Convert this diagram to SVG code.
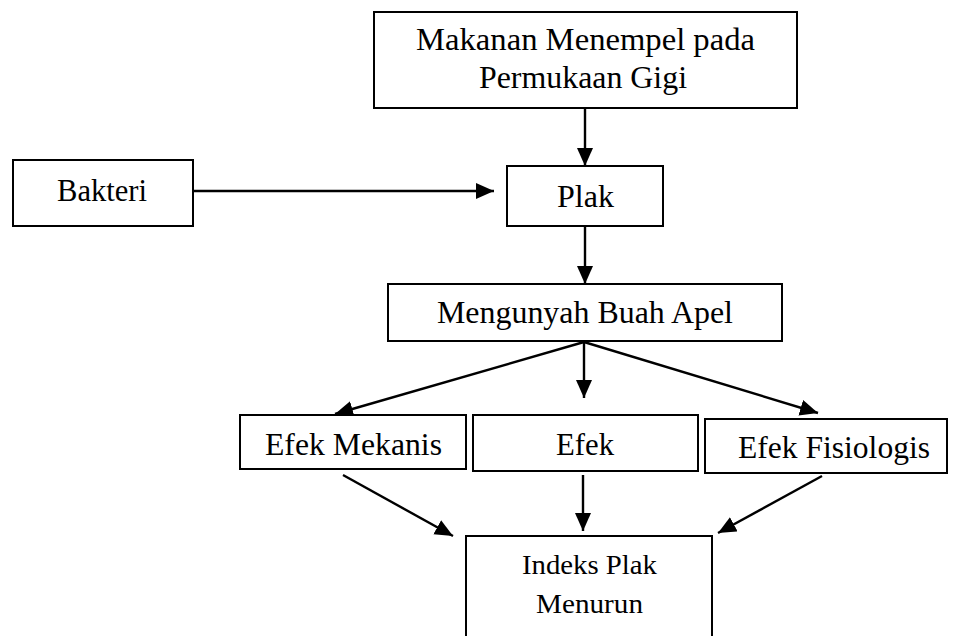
<svg xmlns="http://www.w3.org/2000/svg" width="954" height="636" viewBox="0 0 954 636">
<style>
.box{fill:#fff;stroke:#000;stroke-width:2}
.t{font-family:"Liberation Serif","Times New Roman",serif;font-size:31px;fill:#000}
.ts{font-family:"Liberation Serif","Times New Roman",serif;font-size:28px;fill:#000}
.c{stroke:#000;stroke-width:2.4;fill:none;marker-end:url(#ah)}
</style>
<defs>
<marker id="ah" markerUnits="userSpaceOnUse" markerWidth="20" markerHeight="18" refX="18" refY="8" orient="auto">
<path d="M0,0 L18,8 L0,16 Z" fill="#000"/>
</marker>
</defs>
<rect width="954" height="636" fill="#fff"/>
<g id="connectors">
<line class="c" x1="585" y1="108" x2="585" y2="166"/>
<line class="c" x1="194" y1="191" x2="494" y2="191"/>
<line class="c" x1="585" y1="226" x2="585" y2="284"/>
<line class="c" x1="584" y1="342" x2="335" y2="414"/>
<line class="c" x1="584" y1="342" x2="584" y2="398"/>
<line class="c" x1="584" y1="342" x2="818" y2="413"/>
<line class="c" x1="343" y1="475" x2="453" y2="536"/>
<line class="c" x1="583" y1="475" x2="583" y2="531"/>
<line class="c" x1="822" y1="476" x2="718" y2="533"/>
</g>
<g id="makanan">
<rect class="box" x="374" y="12" width="423" height="96"/>
<text class="t" x="416" y="50" textLength="339" lengthAdjust="spacingAndGlyphs">Makanan Menempel pada</text>
<text class="t" x="479" y="88" textLength="208" lengthAdjust="spacingAndGlyphs">Permukaan Gigi</text>
</g>
<g id="bakteri">
<rect class="box" x="13" y="160" width="180" height="66"/>
<text class="t" x="57" y="201" textLength="90" lengthAdjust="spacingAndGlyphs">Bakteri</text>
</g>
<g id="plak">
<rect class="box" x="507" y="166" width="156" height="60"/>
<text class="t" x="557" y="207" textLength="57" lengthAdjust="spacingAndGlyphs">Plak</text>
</g>
<g id="mengunyah">
<rect class="box" x="388" y="284" width="394" height="57"/>
<text class="t" x="437" y="323" textLength="296" lengthAdjust="spacingAndGlyphs">Mengunyah Buah Apel</text>
</g>
<g id="efek-mekanis">
<rect class="box" x="240" y="415" width="226" height="54"/>
<text class="t" x="265" y="455" textLength="177" lengthAdjust="spacingAndGlyphs">Efek Mekanis</text>
</g>
<g id="efek">
<rect class="box" x="473" y="415" width="225" height="56"/>
<text class="t" x="556" y="455" textLength="58" lengthAdjust="spacingAndGlyphs">Efek</text>
</g>
<g id="efek-fisiologis">
<rect class="box" x="705" y="419" width="242" height="54"/>
<text class="t" x="738" y="458" textLength="192" lengthAdjust="spacingAndGlyphs">Efek Fisiologis</text>
</g>
<g id="indeks">
<rect class="box" x="466" y="536" width="246" height="110"/>
<text class="ts" x="522" y="574" textLength="135" lengthAdjust="spacingAndGlyphs">Indeks Plak</text>
<text class="ts" x="536" y="613" textLength="107" lengthAdjust="spacingAndGlyphs">Menurun</text>
</g>
</svg>
